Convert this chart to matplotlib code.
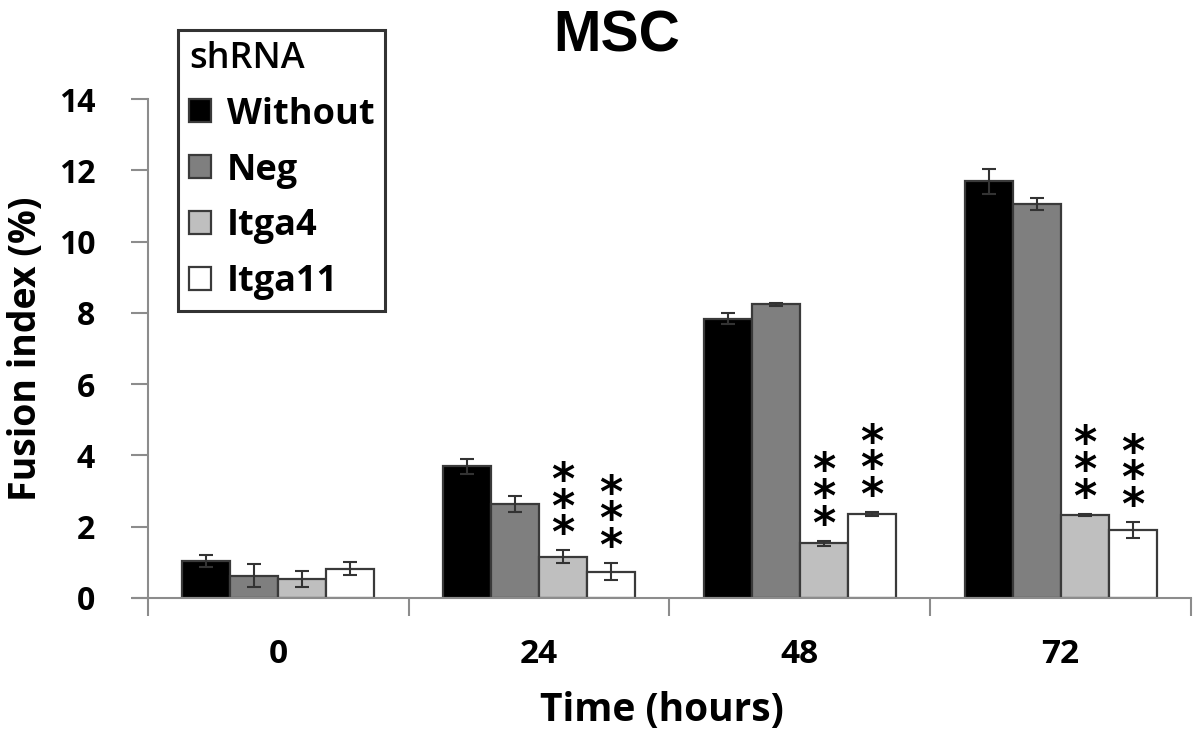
import matplotlib
matplotlib.use("Agg")
import matplotlib.pyplot as plt
import numpy as np

# ---- data ----
times = ["0", "24", "48", "72"]
groups = ["Without", "Neg", "Itga4", "Itga11"]
without = [1.05, 3.69, 7.84, 11.69]
neg = [0.63, 2.64, 8.24, 11.05]
itga4 = [0.53, 1.16, 1.54, 2.33]
itga11 = [0.82, 0.74, 2.35, 1.91]
without_err = [0.17, 0.22, 0.16, 0.35]
neg_err = [0.32, 0.23, 0.05, 0.17]
itga4_err = [0.22, 0.18, 0.07, 0.04]
itga11_err = [0.18, 0.24, 0.06, 0.22]
# significance marks: (time index, series index)
signif = [(1, 2), (1, 3), (2, 2), (2, 3), (3, 2), (3, 3)]
yticks = [0, 2, 4, 6, 8, 10, 12, 14]

values = [without, neg, itga4, itga11]
errors = [without_err, neg_err, itga4_err, itga11_err]
colors = ["#000000", "#7f7f7f", "#bfbfbf", "#ffffff"]

FONT = "Open Sans"
AXC = "#8c8c8c"

fig = plt.figure(figsize=(12, 7.36), dpi=100)
ax = fig.add_axes([133 / 1200, 1 - 598 / 736, (1191 - 133) / 1200, (598 - 99) / 736])

for s in ["top", "right"]:
    ax.spines[s].set_visible(False)
ax.spines["left"].set_position(("data", -0.5))
ax.spines["left"].set_color(AXC)
ax.spines["left"].set_linewidth(1.5)
ax.spines["bottom"].set_color(AXC)
ax.spines["bottom"].set_linewidth(1.5)

x = np.arange(len(times))
bw = 0.184
offsets = (np.arange(4) - 1.5) * bw
for i, (vals, errs, col) in enumerate(zip(values, errors, colors)):
    ax.bar(x + offsets[i], vals, bw, color=col, edgecolor="#3a3a3a", linewidth=1.6,
           label=groups[i], zorder=2)
    ax.errorbar(x + offsets[i], vals, yerr=errs, fmt="none", ecolor="#333333",
                elinewidth=1.5, capsize=5, capthick=1.5, zorder=3)

for ti, si in signif:
    top = values[si][ti] + errors[si][ti]
    ax.annotate("*\n*\n*", xy=(x[ti] + offsets[si], top), xytext=(0, -6),
                textcoords="offset pixels", ha="center", va="bottom",
                fontsize=32, fontweight="bold", family="DejaVu Sans",
                linespacing=0.52, zorder=4)

ax.set_xlim(-0.5575, 3.5)
ax.set_ylim(0, 14)
ax.set_yticks(yticks)
ax.set_yticklabels([str(t) for t in yticks], fontsize=23, fontweight="bold", family=FONT)
ax.set_xticks(x)
ax.set_xticklabels(times, fontsize=24, fontweight="bold", family=FONT)
ax.set_xticks(np.arange(-0.5, 3.6, 1.0), minor=True)
ax.tick_params(axis="x", which="major", length=0, pad=29)
ax.tick_params(axis="x", which="minor", length=13, width=1.5, color=AXC, direction="out")
ax.tick_params(axis="y", length=12, width=1.5, color=AXC, pad=26)

ax.set_ylabel("Fusion index (%)", fontsize=27, fontweight="bold", family=FONT, labelpad=10)
ax.set_xlabel("Time (hours)", fontsize=28, fontweight="bold", family=FONT, labelpad=14)

fig.text(617 / 1200, 1 - 37 / 736, "MSC", fontsize=41, fontweight="bold",
         family="Liberation Sans", ha="center", va="center")

leg = ax.legend(title="shRNA", loc="upper left", bbox_to_anchor=(178 / 1200, 1 - 30 / 736),
                bbox_transform=fig.transFigure, frameon=True, fancybox=False,
                prop={"family": FONT, "weight": "bold", "size": 26},
                title_fontproperties={"family": FONT, "size": 26, "weight": "semibold"},
                handlelength=0.6, handleheight=0.6, handletextpad=0.45,
                labelspacing=0.55, borderpad=0.3, borderaxespad=0)
leg._legend_box.align = "left"
leg.get_frame().set_edgecolor("black")
leg.get_frame().set_linewidth(2.2)
for h in leg.legend_handles:
    h.set_edgecolor("#3a3a3a")

fig.savefig("out.png", dpi=100)
